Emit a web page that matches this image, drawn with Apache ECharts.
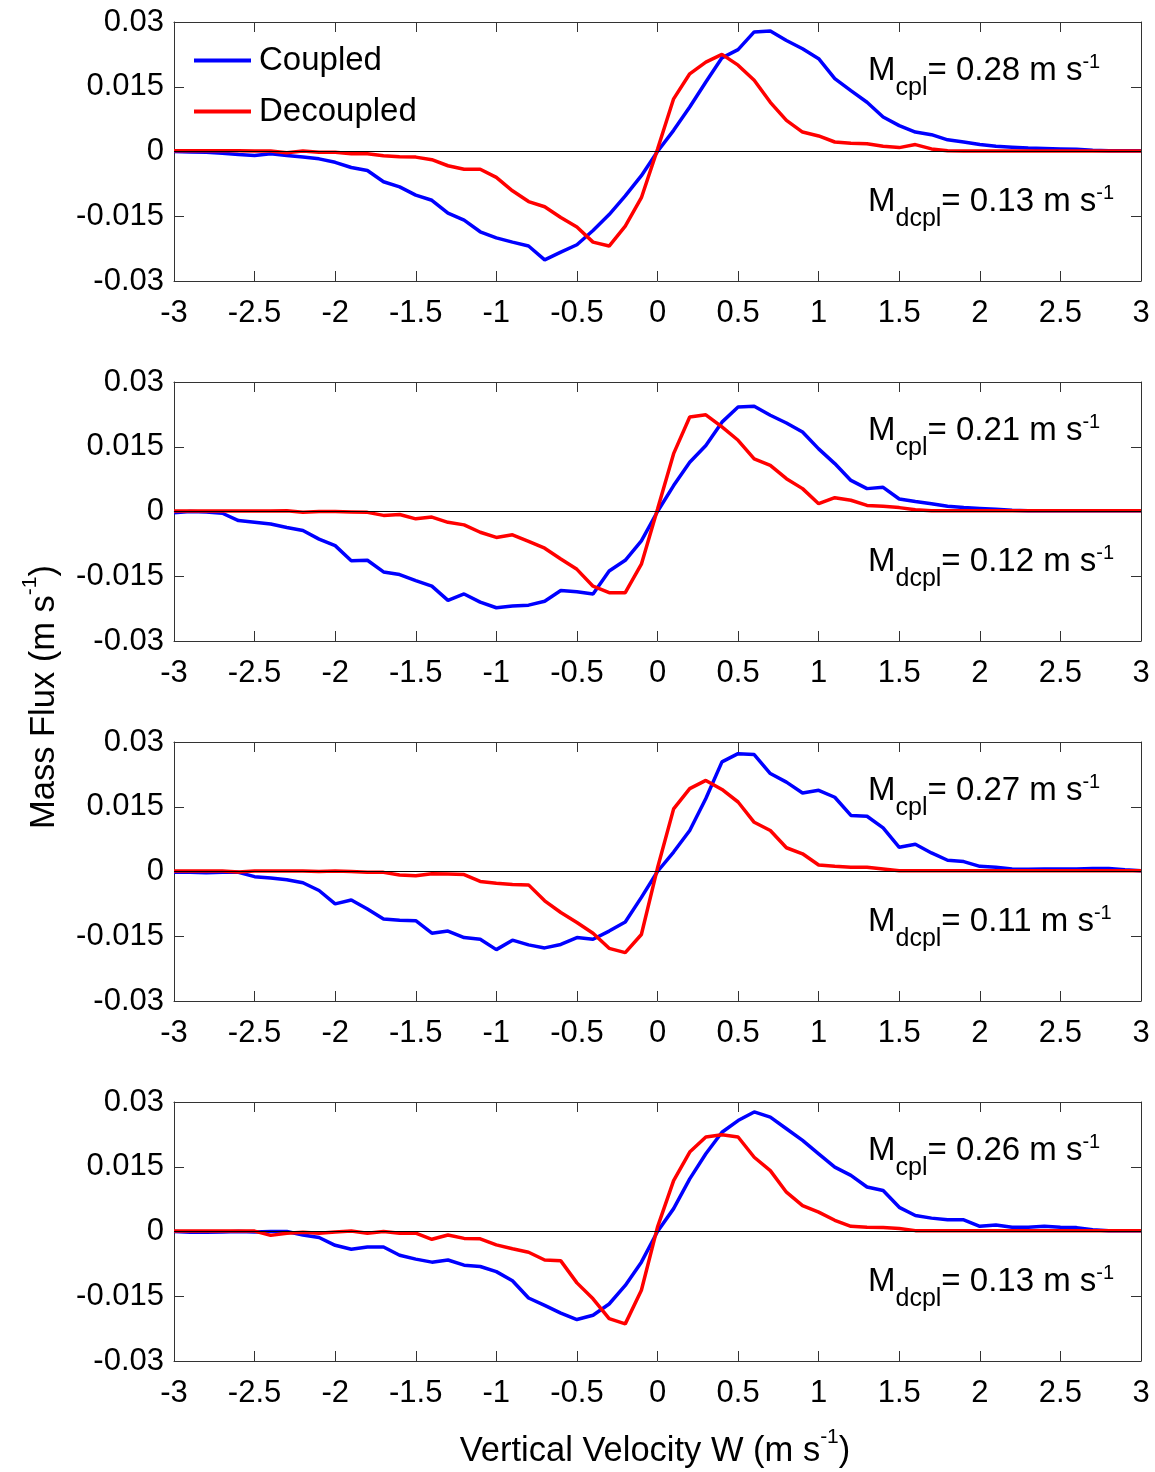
<!DOCTYPE html>
<html>
<head>
<meta charset="utf-8">
<script src="https://cdn.jsdelivr.net/npm/echarts@6/dist/echarts.min.js"></script>
<style>
html,body{margin:0;padding:0;background:#fff;}
#chart{width:1155px;height:1472px;}
</style>
</head>
<body>
<div id="chart"></div>
<script>
// Vertical velocity bins (m/s)
const W = [-3.0,-2.9,-2.8,-2.7,-2.6,-2.5,-2.4,-2.3,-2.2,-2.1,-2.0,-1.9,-1.8,-1.7,-1.6,-1.5,-1.4,-1.3,-1.2,-1.1,-1.0,-0.9,-0.8,-0.7,-0.6,-0.5,-0.4,-0.3,-0.2,-0.1,0.0,0.1,0.2,0.3,0.4,0.5,0.6,0.7,0.8,0.9,1.0,1.1,1.2,1.3,1.4,1.5,1.6,1.7,1.8,1.9,2.0,2.1,2.2,2.3,2.4,2.5,2.6,2.7,2.8,2.9,3.0];

const coupled1 = [0,-0.0001,-0.0002,-0.0004,-0.0007,-0.0009,-0.0005,-0.0009,-0.0013,-0.0017,-0.0025,-0.0037,-0.0044,-0.007,-0.0082,-0.0101,-0.0113,-0.0143,-0.0159,-0.0186,-0.020,-0.021,-0.0219,-0.0251,-0.0233,-0.0216,-0.0183,-0.0146,-0.0103,-0.0056,0,0.0049,0.0103,0.0161,0.0217,0.0236,0.0277,0.0279,0.0257,0.0238,0.0215,0.0169,0.0141,0.0114,0.008,0.006,0.0045,0.0039,0.0027,0.0022,0.0016,0.0012,0.001,0.0008,0.0007,0.0006,0.0005,0.0003,0.0002,0.0002,0.0002];
const decoupled1 = [0.0002,0.0002,0.0002,0.0002,0.0002,0.0001,0.0001,-0.0003,0.0001,-0.0002,-0.0002,-0.0005,-0.0005,-0.001,-0.0012,-0.0013,-0.0019,-0.0033,-0.0041,-0.0041,-0.006,-0.0091,-0.0116,-0.0128,-0.0153,-0.0175,-0.021,-0.0219,-0.0173,-0.0107,0.0005,0.0122,0.018,0.0207,0.0225,0.02,0.0165,0.0114,0.0072,0.0045,0.0036,0.0022,0.0019,0.0018,0.0012,0.0009,0.0016,0.0006,0.0002,0.0001,0.0001,0.0001,0.0001,0.0001,0.0001,0.0001,0.0001,0.0001,0.0001,0.0001,0.0001];

const coupled2 = [-0.0003,0,-0.0001,-0.0004,-0.0021,-0.0025,-0.0029,-0.0037,-0.0044,-0.0064,-0.0079,-0.0114,-0.0113,-0.014,-0.0146,-0.016,-0.0173,-0.0206,-0.0191,-0.021,-0.0223,-0.0219,-0.0217,-0.0208,-0.0183,-0.0186,-0.0191,-0.0138,-0.0113,-0.0068,0,0.006,0.0114,0.0153,0.0207,0.0242,0.0244,0.0223,0.0205,0.0184,0.0145,0.0111,0.0072,0.0053,0.0056,0.0029,0.0023,0.0018,0.0012,0.0009,0.0007,0.0005,0.0003,0.0002,0.0002,0.0002,0.0002,0.0002,0.0002,0.0002,0.0002];
const decoupled2 = [0.0001,0.0001,0.0001,0.0001,0.0001,0.0001,0.0001,0.0002,-0.0002,0,0,-0.0001,-0.0002,-0.0009,-0.0007,-0.0017,-0.0013,-0.0025,-0.0031,-0.0048,-0.006,-0.0054,-0.0069,-0.0085,-0.011,-0.0134,-0.0173,-0.0188,-0.0188,-0.0122,0.0005,0.0134,0.0219,0.0224,0.0196,0.0165,0.0122,0.0107,0.0076,0.0053,0.0018,0.0032,0.0026,0.0014,0.0012,0.0009,0.0004,0.0002,0.0002,0.0002,0.0002,0.0002,0.0002,0.0002,0.0002,0.0002,0.0002,0.0002,0.0002,0.0002,0.0002];

const coupled3 = [-0.0002,-0.0002,-0.0003,-0.0002,-0.0002,-0.0012,-0.0015,-0.0019,-0.0026,-0.0044,-0.0075,-0.0066,-0.0087,-0.011,-0.0113,-0.0114,-0.0143,-0.0138,-0.0153,-0.0157,-0.0181,-0.0159,-0.017,-0.0177,-0.0169,-0.0153,-0.0157,-0.0138,-0.0117,-0.006,0,0.0045,0.0095,0.0169,0.0254,0.0273,0.0271,0.0227,0.0207,0.0182,0.0188,0.0172,0.013,0.0128,0.0101,0.0056,0.0063,0.0043,0.0026,0.0023,0.0012,0.001,0.0006,0.0005,0.0006,0.0006,0.0006,0.0007,0.0007,0.0004,0.0002];
const decoupled3 = [0.0001,0.0001,0.0001,0.0001,-0.0001,0.0001,0.0001,0.0001,0.0001,0,0.0001,0,-0.0002,-0.0002,-0.0008,-0.001,-0.0005,-0.0006,-0.0007,-0.0023,-0.0027,-0.003,-0.0031,-0.0068,-0.0095,-0.0118,-0.0143,-0.0178,-0.0188,-0.0146,0.0008,0.0145,0.0192,0.0211,0.019,0.0161,0.0114,0.0095,0.0055,0.0041,0.0015,0.0012,0.001,0.001,0.0006,0.0002,0.0002,0.0002,0.0002,0.0002,0.0002,0.0002,0.0002,0.0002,0.0002,0.0002,0.0002,0.0002,0.0002,0.0002,0.0002];

const coupled4 = [0,-0.0002,-0.0002,-0.0001,0,-0.0001,0,0,-0.0008,-0.0014,-0.0032,-0.0041,-0.0036,-0.0036,-0.0055,-0.0064,-0.0071,-0.0066,-0.0078,-0.0081,-0.0093,-0.0114,-0.0154,-0.0171,-0.0189,-0.0204,-0.0194,-0.0168,-0.0125,-0.0071,0,0.0053,0.0122,0.018,0.023,0.0257,0.0277,0.0265,0.0238,0.0211,0.018,0.0149,0.013,0.0103,0.0095,0.0056,0.0037,0.0031,0.0027,0.0027,0.0012,0.0015,0.001,0.001,0.0012,0.001,0.0009,0.0004,0.0002,0.0002,0.0002];
const decoupled4 = [0.0001,0.0001,0.0001,0.0001,0.0001,0.0001,-0.0009,-0.0004,-0.0002,-0.0004,-0.0001,0.0001,-0.0004,0,-0.0004,-0.0004,-0.0018,-0.0008,-0.0016,-0.0017,-0.0031,-0.004,-0.0048,-0.0066,-0.0068,-0.0119,-0.0156,-0.0202,-0.0214,-0.0136,0.001,0.0118,0.0184,0.0219,0.0224,0.0219,0.0172,0.0141,0.0091,0.006,0.0045,0.0026,0.0012,0.001,0.0009,0.0007,0.0002,0.0002,0.0002,0.0002,0.0002,0.0002,0.0002,0.0002,0.0002,0.0002,0.0002,0.0002,0.0002,0.0002,0.0002];

const mCpl  = ['0.28','0.21','0.27','0.26'];
const mDcpl = ['0.13','0.12','0.11','0.13'];

const yTickValues = [-0.03,-0.015,0,0.015,0.03];
const yTickLabels = ['-0.03','-0.015','0','0.015','0.03'];

const coupledAll = [coupled1,coupled2,coupled3,coupled4];
const decoupledAll = [decoupled1,decoupled2,decoupled3,decoupled4];

const FONT = 'Liberation Sans, Arial, Helvetica, sans-serif';
const gridTops = [22,382,742,1102];
const gridH = 259, gridL = 174, gridW = 967;
const frame = '#333';

const pair = arr => W.map((w,i)=>[w,arr[i]]);
const yFmt = v => { for (let i=0;i<yTickValues.length;i++){ if (Math.abs(v-yTickValues[i])<1e-9) return yTickLabels[i]; } return ''; };

const grid=[], xAxis=[], yAxis=[], series=[], graphic=[];
const annRich = {
  m:{fontSize:33,fontFamily:FONT,fill:'#000',lineHeight:64},
  sub:{fontSize:25,fontFamily:FONT,fill:'#000',lineHeight:25,padding:[36,0,0,0]},
  sup:{fontSize:20,fontFamily:FONT,fill:'#000',lineHeight:20,padding:[0,0,16,0]}
};
gridTops.forEach((top,p)=>{
  grid.push({left:gridL, top:top, width:gridW, height:gridH, containLabel:false});
  const common = {min:-3,max:3,interval:0.5,gridIndex:p,splitLine:{show:false},
    axisLine:{show:true,onZero:false,lineStyle:{color:frame,width:1}},
    axisTick:{show:true,inside:true,length:10,lineStyle:{color:frame,width:1}}};
  xAxis.push(Object.assign({type:'value',position:'bottom',
    axisLabel:{show:true,color:'#000',fontSize:31,fontFamily:FONT,margin:17,showMinLabel:true,showMaxLabel:true}},common));
  xAxis.push(Object.assign({type:'value',position:'top',axisLabel:{show:false}},common));
  const ycommon = {min:-0.03,max:0.03,interval:0.015,gridIndex:p,splitLine:{show:false},
    axisLine:{show:true,onZero:false,lineStyle:{color:frame,width:1}},
    axisTick:{show:true,inside:true,length:10,lineStyle:{color:frame,width:1}}};
  yAxis.push(Object.assign({type:'value',position:'left',
    axisLabel:{show:true,color:'#000',fontSize:31,fontFamily:FONT,margin:10,formatter:yFmt,showMinLabel:true,showMaxLabel:true}},ycommon));
  yAxis.push(Object.assign({type:'value',position:'right',axisLabel:{show:false}},ycommon));

  series.push({type:'line',name:'zero'+p,xAxisIndex:2*p,yAxisIndex:2*p,data:[],silent:true,z:1,
    markLine:{silent:true,symbol:['none','none'],label:{show:false},
      lineStyle:{color:'#000',width:1,type:'solid'},data:[{yAxis:0}]}});
  series.push({type:'line',name:'Coupled',xAxisIndex:2*p,yAxisIndex:2*p,data:pair(coupledAll[p]),
    showSymbol:false,symbol:'none',z:3,lineStyle:{color:'#0000ff',width:3.5},itemStyle:{color:'#0000ff'}});
  series.push({type:'line',name:'Decoupled',xAxisIndex:2*p,yAxisIndex:2*p,data:pair(decoupledAll[p]),
    showSymbol:false,symbol:'none',z:4,lineStyle:{color:'#ff0000',width:3.5},itemStyle:{color:'#ff0000'}});

  graphic.push({type:'text',left:868,top:top+18,z:10,
    style:{text:'{m|M}{sub|cpl}{m|= '+mCpl[p]+' m s}{sup|-1}',rich:annRich}});
  graphic.push({type:'text',left:868,top:top+149,z:10,
    style:{text:'{m|M}{sub|dcpl}{m|= '+mDcpl[p]+' m s}{sup|-1}',rich:annRich}});
});

const titleRich = {
  t:{fontSize:34.5,fontFamily:FONT,fill:'#000',lineHeight:64},
  sup:{fontSize:21,fontFamily:FONT,fill:'#000',lineHeight:21,padding:[0,0,28,0]}
};
graphic.push({type:'text',x:655,y:1451,z:10,
  style:{text:'{t|Vertical Velocity W (m s}{sup|-1}{t|)}',rich:titleRich,align:'center',verticalAlign:'middle'}});
graphic.push({type:'text',x:44,y:697,rotation:Math.PI/2,z:10,
  style:{text:'{t|Mass Flux (m s}{sup|-1}{t|)}',rich:titleRich,align:'center',verticalAlign:'middle'}});

const chart = echarts.init(document.getElementById('chart'),null,{renderer:'canvas'});
chart.setOption({
  backgroundColor:'#fff',
  animation:false,
  grid:grid, xAxis:xAxis, yAxis:yAxis, series:series, graphic:graphic,
  legend:{data:[{name:'Coupled',icon:'rect'},{name:'Decoupled',icon:'rect'}],
    orient:'vertical',left:189,top:39,itemWidth:57,itemHeight:4,itemGap:18,
    textStyle:{fontSize:33,fontFamily:FONT,color:'#000',padding:[0,0,0,3]},
    selectedMode:false}
});
</script>
</body>
</html>
